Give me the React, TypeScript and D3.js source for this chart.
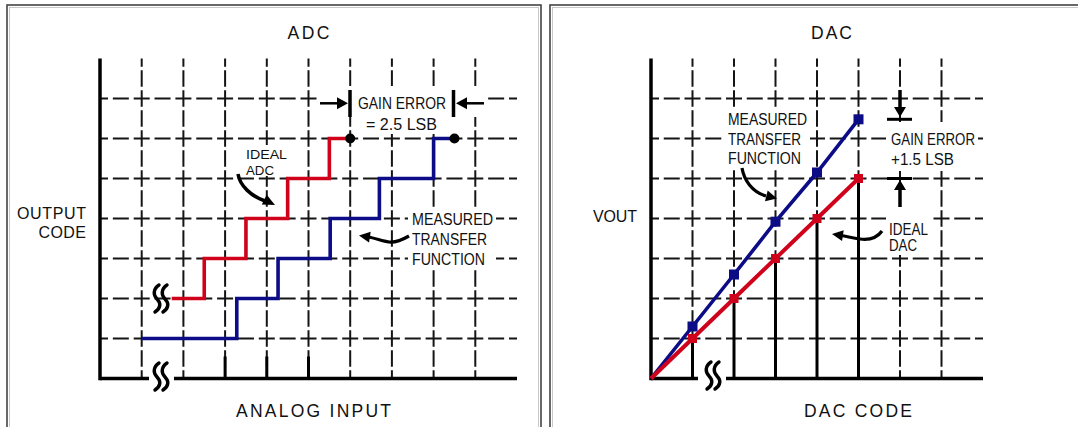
import React from 'react';
import * as d3 from 'd3';

const W = 1078;
const H = 427;

// ---------- ADC panel data ----------
const adcGridCodes = [1, 2, 3, 4, 5, 6, 7];
const adcGridInputs = [1, 2, 3, 4, 5, 6, 7, 8, 9];
const adcTickInputs = [3, 4, 5];
const idealAdcInput = [1.72, 2.5, 3.5, 4.5, 5.5, 6.0];
const idealAdcCode = [2, 3, 4, 5, 6, 6];
const measuredAdcInput = [1.0, 3.28, 4.27, 5.52, 6.7, 8.0, 8.5];
const measuredAdcCode = [1, 2, 3, 4, 5, 6, 6];
const adcEndpointInputs = [6.0, 8.5];
const adcEndpointCode = 6;

// ---------- DAC panel data ----------
const dacGridCodes = [1, 2, 3, 4, 5, 6, 7];
const dacGridVout = [1, 2, 3, 4, 5, 6, 7];
const dacCodes = [0, 1, 2, 3, 4, 5];
const idealVout = [0, 1, 2, 3, 4, 5];
const measuredVout = [0, 1.3, 2.6, 3.92, 5.15, 6.48];

const RED = '#d0021b';
const BLUE = '#0c0c86';
const INK = '#111';

const xAdc = d3.scaleLinear().domain([0, 10]).range([100, 517]);
const yCode = d3.scaleLinear().domain([0, 8]).range([378.5, 58.5]);
const xDac = d3.scaleLinear().domain([0, 8]).range([651, 983]);

function head(tx: number, ty: number, dx: number, dy: number, len = 10, hw = 5) {
  const m = Math.hypot(dx, dy);
  const ux = dx / m, uy = dy / m;
  const bx = tx - ux * len, by = ty - uy * len;
  return `${tx},${ty} ${bx - uy * hw},${by + ux * hw} ${bx + uy * hw},${by - ux * hw}`;
}

const Squiggle = ({ x, y }: { x: number; y: number }) => (
  <g fill="none" stroke="#000" strokeWidth={3.4} strokeLinecap="round">
    {[0, 8].map((dx) => (
      <path
        key={dx}
        d={`M${x + dx + 7},${y} C${x + dx + 1},${y + 4} ${x + dx + 1},${y + 10} ${x + dx + 5},${y + 14} C${x + dx + 9},${y + 18} ${x + dx + 9},${y + 23} ${x + dx + 3},${y + 27}`}
      />
    ))}
  </g>
);

const T = ({ x, y, len, size = 16, children, narrow = false, fill = INK }: any) => (
  <text
    x={x}
    y={y}
    fontSize={size}
    fontFamily={narrow ? "'Liberation Sans Narrow', 'Liberation Sans', Arial, sans-serif" : "'Liberation Sans', Arial, sans-serif"}
    textLength={len}
    lengthAdjust={narrow ? 'spacingAndGlyphs' : 'spacing'}
    fill={fill}
  >
    {children}
  </text>
);

const Grid = ({ xs, ys, xScale, x0, x1 }: any) => {
  const y0 = yCode(8), yb = yCode(0);
  const unitX = xScale(1) - xScale(0);
  const hPeriod = unitX / 2;
  const hDash = 16;
  return (
    <g stroke="#151515" strokeWidth={2}>
      {xs.map((k: number) => (
        <line key={'v' + k} x1={xScale(k)} x2={xScale(k)} y1={y0} y2={yb}
          strokeDasharray="16.5 3.5" strokeDashoffset={8.25} />
      ))}
      {ys.map((v: number) => (
        <line key={'h' + v} x1={x0} x2={x1} y1={yCode(v)} y2={yCode(v)}
          strokeDasharray={`${hDash} ${hPeriod - hDash}`} strokeDashoffset={hDash / 2} />
      ))}
    </g>
  );
};

export default function App() {
  const stepLine = d3
    .line<[number, number]>()
    .x((d) => xAdc(d[0]))
    .y((d) => yCode(d[1]))
    .curve(d3.curveStepAfter);
  const idealAdcPts = idealAdcInput.map((x, i) => [x, idealAdcCode[i]] as [number, number]);
  const measAdcPts = measuredAdcInput.map((x, i) => [x, measuredAdcCode[i]] as [number, number]);

  const dacLine = d3
    .line<[number, number]>()
    .x((d) => xDac(d[0]))
    .y((d) => yCode(d[1]));
  const idealDacPts = dacCodes.map((c, i) => [c, idealVout[i]] as [number, number]);
  const measDacPts = dacCodes.map((c, i) => [c, measuredVout[i]] as [number, number]);

  const ax = 3.5;

  return (
    <svg width={W} height={H} style={{ position: 'absolute', left: 0, top: 0, background: '#fff' }}>
      <rect x={0} y={0} width={W} height={H} fill="#fff" />
      {/* panel frames */}
      <rect x={7} y={5} width={534} height={424} fill="none" stroke="#444" strokeWidth={1.6} />
      <rect x={9.5} y={7.5} width={529} height={424} fill="none" stroke="#bbb" strokeWidth={0.8} />
      <rect x={550} y={5} width={540} height={424} fill="none" stroke="#444" strokeWidth={1.6} />
      <rect x={552.5} y={7.5} width={540} height={424} fill="none" stroke="#bbb" strokeWidth={0.8} />

      {/* ================= ADC ================= */}
      <Grid xs={adcGridInputs} ys={adcGridCodes} xScale={xAdc} x0={xAdc(0)} x1={xAdc(10)} />

      {/* white knock-outs behind annotations */}
      <g fill="#fff">
        <rect x={318} y={86} width={168} height={31} />
        <rect x={355} y={117} width={93} height={17} />
        <rect x={244} y={145} width={46} height={31} />
        <rect x={408} y={208} width={88} height={60} />
      </g>

      {/* solid ticks */}
      {adcTickInputs.map((k) => (
        <line key={k} x1={xAdc(k)} x2={xAdc(k)} y1={yCode(0)} y2={yCode(0.55)} stroke="#000" strokeWidth={3} />
      ))}

      {/* axes */}
      <line x1={xAdc(0)} x2={xAdc(0)} y1={yCode(8)} y2={yCode(0) + ax / 2} stroke="#000" strokeWidth={ax} />
      <line x1={xAdc(0)} x2={xAdc(10)} y1={yCode(0)} y2={yCode(0)} stroke="#000" strokeWidth={ax} />
      <rect x={149} y={370} width={25} height={16} fill="#fff" />
      <Squiggle x={152} y={363} />

      {/* steps */}
      <path d={stepLine(idealAdcPts) || ''} fill="none" stroke={RED} strokeWidth={3.6} />
      <path d={stepLine(measAdcPts) || ''} fill="none" stroke={BLUE} strokeWidth={3.6} />
      <Squiggle x={152} y={285} />
      {adcEndpointInputs.map((k) => (
        <circle key={k} cx={xAdc(k)} cy={yCode(adcEndpointCode)} r={5} fill="#000" />
      ))}

      {/* gain error annotation */}
      <g fill="#000" stroke="#000">
        <line x1={350} x2={350} y1={90} y2={117} strokeWidth={3.5} />
        <line x1={320} x2={340} y1={103.3} y2={103.3} strokeWidth={2.5} />
        <polygon points={head(348, 103.3, 1, 0, 11, 6)} stroke="none" />
        <line x1={453.5} x2={453.5} y1={90} y2={117} strokeWidth={3.5} />
        <line x1={465} x2={484} y1={103.3} y2={103.3} strokeWidth={2.5} />
        <polygon points={head(456, 103.3, -1, 0, 11, 6)} stroke="none" />
      </g>
      <T x={358} y={109} len={88} narrow>GAIN ERROR</T>
      <T x={366} y={130} len={71} narrow>= 2.5 LSB</T>

      <T x={246} y={159} len={41} size={13.5} narrow>IDEAL</T>
      <T x={246} y={174.5} len={28} size={13.5} narrow>ADC</T>
      <g>
        <path d="M238,174 C240,186 251,196 265,201" fill="none" stroke="#000" strokeWidth={3.5} />
        <polygon points={head(275, 205, 2, 1, 12, 5.5)} fill="#000" />
      </g>

      <T x={412} y={225} len={81} narrow>MEASURED</T>
      <T x={412} y={245} len={75} narrow>TRANSFER</T>
      <T x={412} y={264.5} len={73} narrow>FUNCTION</T>
      <g>
        <path d="M409,236 C402,240 396,243 389,242 C382,241 375,238 368,237" fill="none" stroke="#000" strokeWidth={3.2} />
        <polygon points={head(359, 235.5, -1, -0.15, 11, 5.5)} fill="#000" />
      </g>

      <T x={287.5} y={38.5} len={42} size={17.5}>ADC</T>
      <T x={17} y={218.5} len={69}>OUTPUT</T>
      <T x={38.5} y={237.5} len={47.5}>CODE</T>
      <T x={236} y={416.5} len={155} size={17.5}>ANALOG INPUT</T>

      {/* ================= DAC ================= */}
      <Grid xs={dacGridCodes} ys={dacGridVout} xScale={xDac} x0={xDac(0)} x1={xDac(8)} />
      <g fill="#fff">
        <rect x={725} y={107} width={85} height={61} />
        <rect x={886} y={122} width={92} height={49} />
        <rect x={886} y={208} width={44} height={47} />
      </g>

      {/* solid code lines up to ideal output */}
      {dacCodes.filter((c) => c > 0).map((c, i) => (
        <line key={c} x1={xDac(c)} x2={xDac(c)} y1={yCode(0)} y2={yCode(idealVout[i + 1])} stroke="#000" strokeWidth={3} />
      ))}

      <line x1={xDac(0)} x2={xDac(0)} y1={yCode(8)} y2={yCode(0) + ax / 2} stroke="#000" strokeWidth={ax} />
      <line x1={xDac(0)} x2={xDac(8)} y1={yCode(0)} y2={yCode(0)} stroke="#000" strokeWidth={ax} />
      <rect x={698} y={370} width={28} height={16} fill="#fff" />
      <Squiggle x={704} y={362} />

      <path d={dacLine(measDacPts) || ''} fill="none" stroke={BLUE} strokeWidth={3.6} />
      <path d={dacLine(idealDacPts) || ''} fill="none" stroke={RED} strokeWidth={4} />
      {measDacPts.slice(1).map((d) => (
        <rect key={'b' + d[0]} x={xDac(d[0]) - 5} y={yCode(d[1]) - 5} width={10} height={10} fill={BLUE} />
      ))}
      {idealDacPts.slice(1).map((d) => (
        <rect key={'r' + d[0]} x={xDac(d[0]) - 4.5} y={yCode(d[1]) - 4.5} width={9} height={9} fill={RED} />
      ))}

      {/* gain error annotation */}
      <g fill="#000" stroke="#000">
        <line x1={900} x2={900} y1={90} y2={109} strokeWidth={3.5} />
        <polygon points={head(900, 117, 0, 1, 10, 6)} stroke="none" />
        <line x1={887} x2={912} y1={119.3} y2={119.3} strokeWidth={3} />
        <line x1={887} x2={912} y1={178.5} y2={178.5} strokeWidth={3} />
        <polygon points={head(900, 180, 0, -1, 10, 6)} stroke="none" />
        <line x1={900} x2={900} y1={189} y2={207} strokeWidth={3.5} />
      </g>
      <T x={891} y={144.7} len={84} narrow>GAIN ERROR</T>
      <T x={891} y={164.7} len={63} narrow>+1.5 LSB</T>

      <T x={889} y={235} len={39} narrow>IDEAL</T>
      <T x={889} y={250.5} len={28} narrow>DAC</T>
      <g>
        <path d="M882,231 C877,238 868,240 860,239 C852,238 846,236 841,235.5" fill="none" stroke="#000" strokeWidth={3.2} />
        <polygon points={head(832, 234, -1, -0.15, 11, 5.5)} fill="#000" />
      </g>

      <T x={728} y={124.7} len={79} narrow>MEASURED</T>
      <T x={728} y={144.7} len={73} narrow>TRANSFER</T>
      <T x={728} y={163.7} len={73} narrow>FUNCTION</T>
      <g>
        <path d="M742,168 C744,180 752,192 766,196" fill="none" stroke="#000" strokeWidth={3.2} />
        <polygon points={head(777, 198.5, 1, 0.25, 11, 5.5)} fill="#000" />
      </g>

      <T x={811} y={38.5} len={41} size={17.5}>DAC</T>
      <T x={593} y={222} len={44}>VOUT</T>
      <T x={804} y={416.5} len={108} size={17.5}>DAC CODE</T>
    </svg>
  );
}
